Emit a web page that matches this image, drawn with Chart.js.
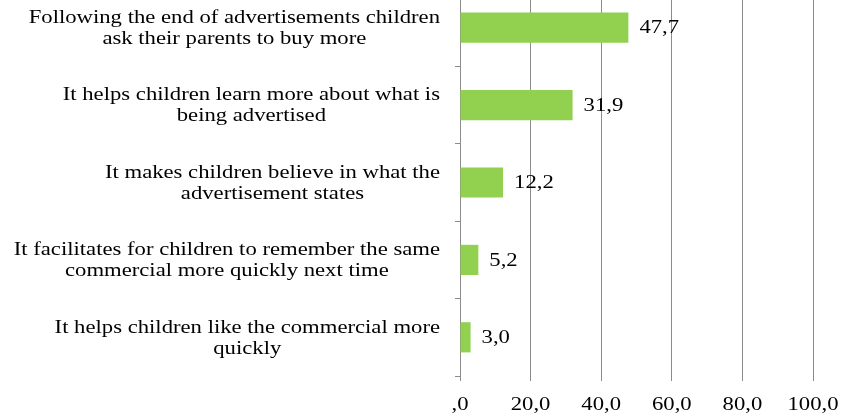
<!DOCTYPE html>
<html>
<head>
<meta charset="utf-8">
<title>Effects of advertisements on children</title>
<script src="https://cdn.jsdelivr.net/npm/chart.js@4.4.1/dist/chart.umd.min.js"></script>
<style>
  html, body { margin: 0; padding: 0; background: #fff; }
  /* the first category band runs a little above the visible frame */
  .frame { position: relative; width: 841px; height: 417px; overflow: hidden; }
  .plot { position: absolute; left: 0; top: -11px; width: 841px; height: 428px; }
</style>
</head>
<body>
<div class="frame">
  <div class="plot"><canvas id="adChart"></canvas></div>
</div>
<script>
// Answers (two lines each) and their share in percent
const categories = [
  ['Following the end of advertisements children', 'ask their parents to buy more'],
  ['It helps children learn more about what is', 'being advertised'],
  ['It makes children believe in what the', 'advertisement states'],
  ['It facilitates for children to remember the same', 'commercial more quickly next time'],
  ['It helps children like the commercial more', 'quickly']
];
const shares = [47.7, 31.9, 12.2, 5.2, 3.0];
const axisTicks = [',0', '20,0', '40,0', '60,0', '80,0', '100,0'];

const SERIF = '"Liberation Serif", "Times New Roman", serif';
const TEXT_SIZE = 18;
const STRETCH = 1.26;   // serif text is drawn a bit wide
const GRID = '#8c8c8c';
const LABEL_RIGHT = 440;
const LINE_GAP = 21;

function wideText(ctx, text, x, y, align) {
  ctx.save();
  ctx.translate(x, y);
  ctx.scale(STRETCH, 1);
  ctx.textAlign = align;
  ctx.fillText(text, 0, 0);
  ctx.restore();
}

// Category labels, value labels and x tick labels
const chartText = {
  id: 'chartText',
  afterDraw(chart) {
    const ctx = chart.ctx;
    const xScale = chart.scales.x;
    const yScale = chart.scales.y;
    const meta = chart.getDatasetMeta(0);
    ctx.save();
    ctx.font = `${TEXT_SIZE}px ${SERIF}`;
    ctx.fillStyle = '#000';
    ctx.textBaseline = 'middle';

    // category labels: block right-aligned to the axis, lines centred inside it
    categories.forEach((lines, i) => {
      const cy = yScale.getPixelForValue(i) + 1;
      const widest = Math.max(...lines.map(l => ctx.measureText(l).width)) * STRETCH;
      const cx = LABEL_RIGHT - widest / 2;
      lines.forEach((line, j) => {
        wideText(ctx, line, cx, cy + (j - (lines.length - 1) / 2) * LINE_GAP, 'center');
      });
    });

    // value labels just past the end of each bar
    meta.data.forEach((bar, i) => {
      wideText(ctx, shares[i].toFixed(1).replace('.', ','), bar.x + 11, bar.y + 1, 'left');
    });

    // x tick labels under the axis
    const ty = xScale.top + 29;
    xScale.ticks.forEach((t, i) => {
      wideText(ctx, axisTicks[i], xScale.getPixelForValue(t.value), ty, 'center');
    });
    ctx.restore();
  }
};

const ctx = document.getElementById('adChart').getContext('2d');
new Chart(ctx, {
  type: 'bar',
  data: {
    labels: categories.map(c => c.join(' ')),
    datasets: [{
      data: shares,
      backgroundColor: '#92D050',
      borderWidth: 0,
      categoryPercentage: 1,
      barPercentage: 0.39
    }]
  },
  options: {
    indexAxis: 'y',
    responsive: true,
    maintainAspectRatio: false,
    animation: false,
    layout: { padding: { left: 0, right: 28, top: 0, bottom: 0 } },
    plugins: {
      legend: { display: false },
      tooltip: { enabled: false }
    },
    scales: {
      x: {
        min: 0,
        max: 100,
        afterFit: s => {
          s.height = 41;
          s.paddingLeft = 0;
          s.paddingRight = 0;
        },
        ticks: { stepSize: 20, display: false },
        grid: { color: GRID, tickLength: 5 },
        border: { display: false }
      },
      y: {
        afterFit: s => { s.width = 460; },
        ticks: { display: false },
        grid: { drawOnChartArea: false, color: GRID, tickLength: 5 },
        border: { color: GRID }
      }
    }
  },
  plugins: [chartText]
});
</script>
</body>
</html>
